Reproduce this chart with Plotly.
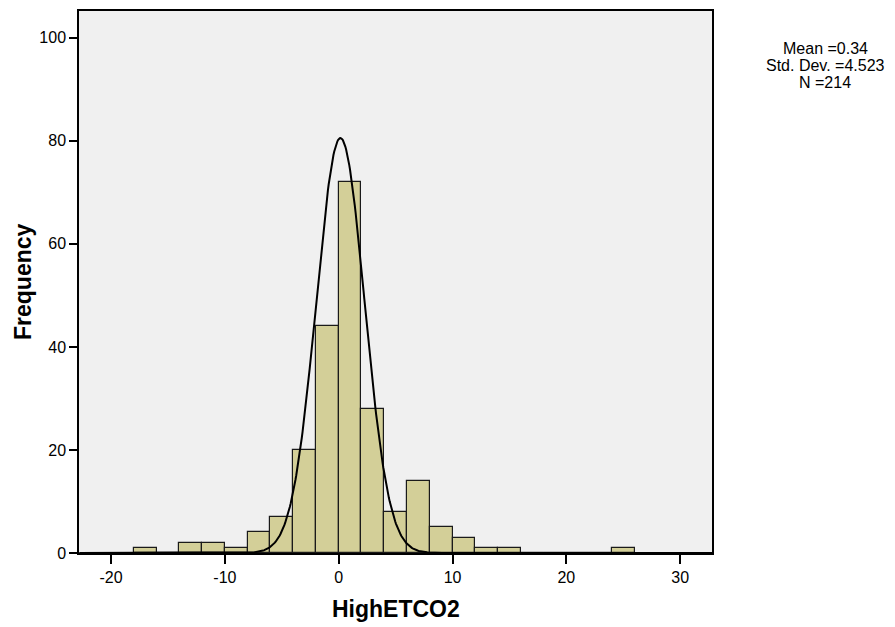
import numpy as np
import plotly.graph_objects as go

# Histogram of HighETCO2: bin edges every 2 units
bin_left = [-18, -16, -14, -12, -10, -8, -6, -4, -2, 0, 2, 4, 6, 8, 10, 12, 14, 16, 18, 20, 22, 24]
counts = [1, 0, 2, 2, 1, 4, 7, 20, 44, 72, 28, 8, 14, 5, 3, 1, 1, 0, 0, 0, 0, 1]
bin_width = 2

# Summary statistics shown beside the chart
stat_mean = 0.34
stat_sd = 4.523
stat_n = 214

# Fitted normal curve parameters
curve_mean = 0.15
curve_sd = 2.12

x_ticks = [-20, -10, 0, 10, 20, 30]
y_ticks = [0, 20, 40, 60, 80, 100]

centers = [b + bin_width / 2 for b in bin_left]
xs = np.linspace(-22.8, 32.8, 800)
ys = stat_n * bin_width / (curve_sd * np.sqrt(2 * np.pi)) * np.exp(-0.5 * ((xs - curve_mean) / curve_sd) ** 2)

font_family = "Liberation Sans, Arial, sans-serif"

fig = go.Figure()
fig.add_trace(go.Bar(
    x=centers, y=counts, width=bin_width,
    marker=dict(color="#D3CF98", line=dict(color="#1a1a1a", width=1.2)),
    showlegend=False, hoverinfo="skip",
))
fig.add_trace(go.Scatter(
    x=xs, y=ys, mode="lines",
    line=dict(color="black", width=2),
    showlegend=False, hoverinfo="skip",
))

fig.update_layout(
    width=895, height=627,
    margin=dict(l=79, r=183, t=9, b=74),
    paper_bgcolor="white",
    plot_bgcolor="#F0F0F0",
    bargap=0,
    font=dict(family=font_family, size=16, color="black"),
    xaxis=dict(
        range=[-22.82, 32.8], tickvals=x_ticks, ticktext=[str(v) for v in x_ticks],
        showgrid=False, zeroline=False,
        showline=True, linecolor="black", linewidth=1.5, mirror=True,
        ticks="outside", ticklen=9, tickwidth=1.5, tickcolor="black",
        tickfont=dict(size=16),
    ),
    yaxis=dict(
        range=[0, 105.2], tickvals=y_ticks,
        showgrid=False, zeroline=False,
        showline=True, linecolor="black", linewidth=1.5, mirror=True,
        ticks="outside", ticklen=8, tickwidth=1.5, tickcolor="black",
        tickfont=dict(size=16),
    ),
)

# Axis titles
fig.add_annotation(
    text="<b>HighETCO2</b>", xref="paper", yref="paper", x=0.5, y=0,
    xanchor="center", yanchor="middle", yshift=-56, showarrow=False,
    font=dict(size=23, family=font_family, color="black"),
)
fig.add_annotation(
    text="<b>Frequency</b>", xref="paper", yref="paper", x=0, y=0.5,
    xanchor="center", yanchor="middle", xshift=-56, textangle=-90, showarrow=False,
    font=dict(size=23, family=font_family, color="black"),
)

# Statistics block, one line per annotation
stat_lines = [f"Mean ={stat_mean:.2f}", f"Std. Dev. ={stat_sd:.3f}", f"N ={stat_n}"]
for i, line in enumerate(stat_lines):
    fig.add_annotation(
        text=line, xref="paper", yref="paper",
        x=1.0 + (825 - 712) / 633, y=1.0, yshift=-(46 + 17 * i - 9),
        xanchor="center", yanchor="middle", showarrow=False,
        font=dict(size=16, family=font_family, color="black"),
    )

fig.write_html("out.html")
